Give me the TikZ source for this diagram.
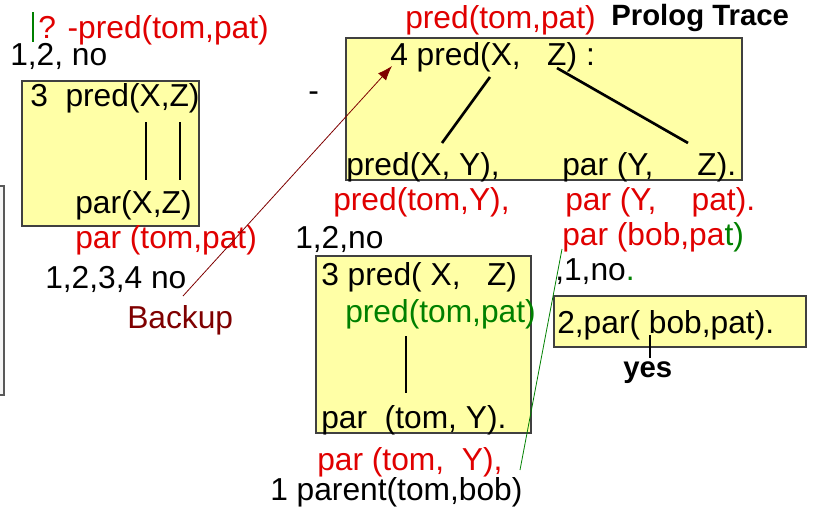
\documentclass[tikz,border=0pt]{standalone}
\usepackage{fontspec}
\setmainfont{Liberation Sans}
\usetikzlibrary{arrows.meta}
\definecolor{tred}{HTML}{E00000}
\definecolor{tgreen}{HTML}{008000}
\definecolor{tdark}{HTML}{7F0000}
\definecolor{boxfill}{HTML}{FFFFA6}
\definecolor{boxline}{HTML}{404040}
\begin{document}
\begin{tikzpicture}[x=0.75pt,y=-0.75pt,
  txt/.style={inner sep=0pt,anchor=base west,font=\fontsize{23.8}{26}\selectfont},
  goal/.style={txt,text=tred},
  ok/.style={txt,text=tgreen},
  frame/.style={draw=boxline,fill=boxfill,line width=0.8pt},
  link/.style={line width=2pt,black},
  backarrow/.style={draw=tdark,line width=0.6pt,-{Latex[length=11pt,width=8pt]}}]
\useasboundingbox (0,0) rectangle (817,518);

% frames of the three pred clauses and the matching par fact
\path[frame] (22,81) rectangle (199,226);
\path[frame] (346,38) rectangle (742,180);
\path[frame] (316,256) rectangle (531,433);
\path[frame] (554,296) rectangle (806,347);
% edge of a grey panel at the left border
\path[draw=gray!70!black,fill=gray!8,line width=0.8pt] (-10,186) rectangle (4,395);

% query
\coordinate (barTop) at (33,12);
\coordinate (barBot) at (33,42);
\draw[tgreen,line width=1.8pt] (barTop) -- (barBot);
\node[goal] (query) at (38,38) {? -pred(tom,pat)};
\node[txt] (tryA) at (10,65) {1,2, no};

% first clause, pred(X,Z) :- par(X,Z)
\node[txt] (c3head) at (30,106) {3\ \ pred(X,Z)};
\coordinate (l1a) at (146,122); \coordinate (l1b) at (146,180);
\coordinate (l2a) at (180,122); \coordinate (l2b) at (180,180);
\draw[link] (l1a) -- (l1b);
\draw[link] (l2a) -- (l2b);
\node[txt] (c3body) at (75,213) {par(X,Z)};
\node[goal] (g1) at (75,248) {par (tom,pat)};
\node[txt] (tryB) at (45,288) {1,2,3,4 no};
\node[txt,text=tdark] (backup) at (127,328) {Backup};

% backtracking arrow to the second clause
\coordinate (arrStart) at (183,296);
\coordinate (arrEnd) at (392,66);
\draw[backarrow] (arrStart) -- (arrEnd);

\node[txt] (dash) at (308,101) {-};

% second clause, pred(X,Z) :- pred(X,Y), par(Y,Z)
\node[goal] (g2) at (405,28) {pred(tom,pat)};
\node[txt,font=\fontsize{22}{26}\selectfont\bfseries] (title) at (611,25) {Prolog Trace};
\node[txt] (c4head) at (390,65) {4 pred(X,\ \ \ Z) :};
\coordinate (t1a) at (490,77); \coordinate (t1b) at (442,143);
\coordinate (t2a) at (557,68); \coordinate (t2b) at (688,143);
\draw[link] (t1a) -- (t1b);
\draw[link] (t2a) -- (t2b);
\node[txt] (c4b1) at (346,175) {pred(X, Y),};
\node[txt] (c4b2) at (562,175) {par (Y,\ \ \ \ \ Z).};
\node[goal] (g3) at (333,210) {pred(tom,Y),};
\node[goal] (g4) at (565,210) {par (Y,\ \ \ \ pat).};
\node[txt] (g5) at (562,245) {\color{tred}par (bob,pa\color{tgreen}t)};
\node[txt] (tryC) at (295,248) {1,2,no};

% recursive call, first clause again
\node[txt] (r3head) at (321,285) {3 pred( X,\ \ \ Z)};
\node[ok] (r3goal) at (345,322) {pred(tom,pat)};
\coordinate (v1a) at (406,336); \coordinate (v1b) at (406,393);
\draw[link] (v1a) -- (v1b);
\node[txt] (r3body) at (321,428) {par\ \ (tom, Y).};
\node[goal] (g6) at (317,470) {par (tom,\ \ Y),};
\node[txt] (fact1) at (270,500) {1 parent(tom,bob)};

% binding Y = bob carried up to the second goal
\coordinate (bindLow) at (520,470);
\coordinate (bindHigh) at (562,249);
\draw[tgreen,line width=0.6pt] (bindLow) -- (bindHigh);

% matching fact
\node[txt] (tryD) at (555,280) {,1,no\textcolor{tgreen}{.}};
\node[txt] (fact2) at (557,333) {2,par( bob,pat).};
\coordinate (ya) at (650,335); \coordinate (yb) at (650,358);
\draw[link] (ya) -- (yb);
\node[txt,font=\fontsize{22}{26}\selectfont\bfseries] (yes) at (623,377) {yes};
\end{tikzpicture}
\end{document}
